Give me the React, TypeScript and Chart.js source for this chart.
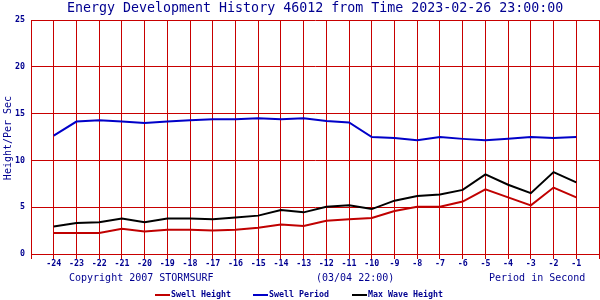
import React, { useEffect, useRef } from "react";
import { Chart, registerables } from "chart.js";

Chart.register(...registerables);

const hours = [-24, -23, -22, -21, -20, -19, -18, -17, -16, -15, -14, -13, -12, -11, -10, -9, -8, -7, -6, -5, -4, -3, -2, -1];
const swellHeight = [2.25, 2.25, 2.25, 2.7, 2.4, 2.6, 2.6, 2.5, 2.6, 2.8, 3.15, 3.0, 3.55, 3.7, 3.85, 4.6, 5.05, 5.05, 5.6, 6.9, 6.05, 5.2, 7.1, 6.05];
const swellPeriod = [12.65, 14.15, 14.3, 14.15, 14.0, 14.15, 14.3, 14.4, 14.4, 14.5, 14.4, 14.5, 14.2, 14.05, 12.5, 12.4, 12.15, 12.5, 12.3, 12.15, 12.3, 12.5, 12.4, 12.5];
const maxWaveHeight = [2.95, 3.3, 3.4, 3.8, 3.4, 3.8, 3.8, 3.7, 3.9, 4.1, 4.7, 4.45, 5.05, 5.2, 4.8, 5.7, 6.2, 6.35, 6.85, 8.5, 7.4, 6.5, 8.75, 7.65];
const seriesNames = ["Swell Height", "Swell Period", "Max Wave Height"];

const titleText = "Energy Development History 46012 from Time 2023-02-26 23:00:00";
const yTitle = "Height/Per Sec";
const footLeft = "Copyright 2007 STORMSURF";
const footMid = "(03/04 22:00)";
const footRight = "Period in Second";

const NAVY = "#000090";
const GRID = "#c80000";
const RED = "#c00000";
const BLUE = "#0000c8";
const BLACK = "#000000";
const MONO = "'DejaVu Sans Mono', monospace";

const textPlugin = {
  id: "texts",
  afterDraw(chart: any) {
    const ctx = chart.ctx;
    ctx.save();
    ctx.fillStyle = NAVY;
    ctx.textBaseline = "middle";
    // title
    ctx.font = `13.3px ${MONO}`;
    ctx.textAlign = "left";
    ctx.fillText(titleText, 67, 8.5);
    // y title
    ctx.save();
    ctx.translate(8, 138);
    ctx.rotate(-Math.PI / 2);
    ctx.font = `10px ${MONO}`;
    ctx.textAlign = "center";
    ctx.fillText(yTitle, 0, 0);
    ctx.restore();
    // footer
    ctx.font = `10px ${MONO}`;
    ctx.textAlign = "left";
    ctx.fillText(footLeft, 69, 278);
    ctx.fillText(footMid, 316, 278);
    ctx.fillText(footRight, 489, 278);
    // legend
    const colors = [RED, BLUE, BLACK];
    const xs = [155, 253, 352];
    ctx.font = `bold 8.3px ${MONO}`;
    seriesNames.forEach((n, i) => {
      ctx.fillStyle = colors[i];
      ctx.fillRect(xs[i], 294, 15, 2);
      ctx.fillStyle = NAVY;
      ctx.fillText(n, xs[i] + 16, 295);
    });
    ctx.restore();
  },
};

export default function App() {
  const ref = useRef<HTMLCanvasElement | null>(null);
  useEffect(() => {
    if (!ref.current) return;
    const mk = (vals: number[]) => hours.map((h, i) => ({ x: h, y: vals[i] }));
    const chart = new Chart(ref.current, {
      type: "line",
      data: {
        datasets: [
          { label: seriesNames[0], data: mk(swellHeight), borderColor: RED, borderWidth: 2, pointRadius: 0, tension: 0 },
          { label: seriesNames[1], data: mk(swellPeriod), borderColor: BLUE, borderWidth: 2, pointRadius: 0, tension: 0 },
          { label: seriesNames[2], data: mk(maxWaveHeight), borderColor: BLACK, borderWidth: 2, pointRadius: 0, tension: 0 },
        ],
      },
      options: {
        responsive: false,
        animation: false,
        layout: { padding: { top: 20, right: 1, left: 0, bottom: 26 } },
        plugins: { legend: { display: false }, title: { display: false }, tooltip: { enabled: false } },
        scales: {
          x: {
            type: "linear",
            min: -25,
            max: 0,
            afterFit: (s: any) => { s.height = 20; },
            grid: { color: GRID, lineWidth: 1, tickLength: 5, drawTicks: true },
            border: { color: GRID },
            ticks: {
              stepSize: 1,
              autoSkip: false,
              maxRotation: 0,
              padding: 0,
              color: NAVY,
              font: { family: MONO, size: 8.3, weight: "bold" },
              callback: (v: any) => (v === -25 || v === 0 ? "" : String(v)),
            },
          },
          y: {
            min: 0,
            max: 25,
            afterFit: (s: any) => { s.width = 31; },
            grid: { color: GRID, lineWidth: 1, drawTicks: false },
            border: { color: GRID },
            ticks: {
              stepSize: 5,
              padding: 6,
              color: NAVY,
              font: { family: MONO, size: 8.3, weight: "bold" },
            },
          },
        },
      },
      plugins: [textPlugin],
    } as any);
    return () => chart.destroy();
  }, []);
  return (
    <div style={{ position: "fixed", left: 0, top: 0, width: 600, height: 300, background: "#fff" }}>
      <canvas ref={ref} width={600} height={300} style={{ width: 600, height: 300 }} />
    </div>
  );
}
